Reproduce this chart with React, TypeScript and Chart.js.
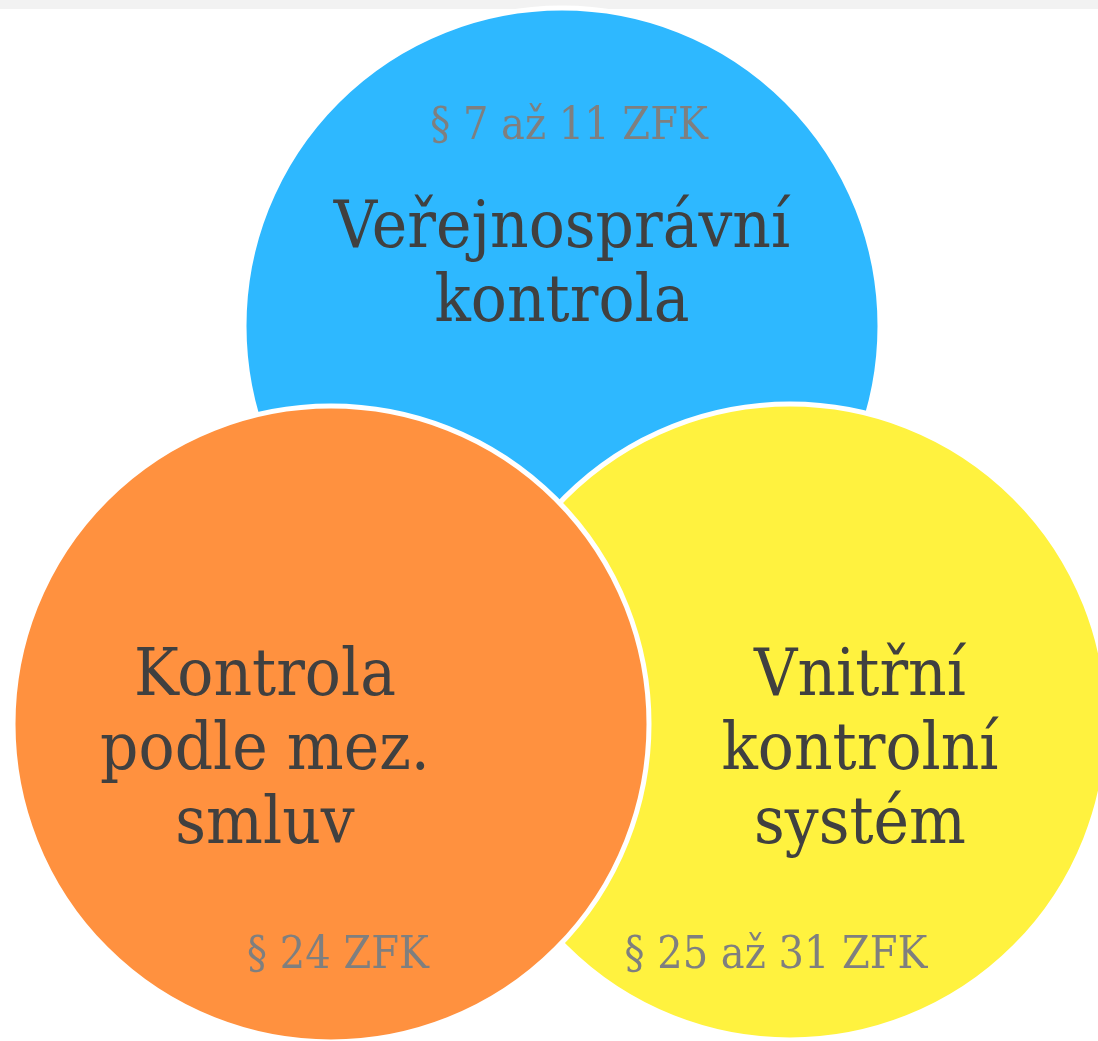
import React, { useEffect, useRef } from "react";
import { Chart, registerables } from "chart.js";

Chart.register(...registerables);

// listed front-most first (Chart.js draws dataset 0 on top)
const circleNames = ["Kontrola podle mez. smluv", "Vnitřní kontrolní systém", "Veřejnosprávní kontrola"];
const circleX = [331, 790, 562];
const circleY = [724, 722, 326];
const circleR = [318, 318, 318];
const circleColors = ["#ff913f", "#fff23f", "#2eb8ff"];

const mainLabels = [
  ["Veřejnosprávní", "kontrola"],
  ["Vnitřní", "kontrolní", "systém"],
  ["Kontrola", "podle mez.", "smluv"],
];
const mainLabelX = [562, 860, 265];
const mainLabelY = [247, 695, 695];
const refLabels = ["§ 7 až 11 ZFK", "§ 25 až 31 ZFK", "§ 24 ZFK"];
const refLabelX = [569, 776, 338];
const refLabelY = [139, 968, 968];

const W = 1098;
const H = 1041;

export default function App() {
  const ref = useRef<HTMLCanvasElement | null>(null);
  useEffect(() => {
    document.body.style.margin = "0";
    const canvas = ref.current!;
    const bg = {
      id: "bg",
      beforeDraw(chart: any) {
        const ctx = chart.ctx;
        ctx.save();
        ctx.fillStyle = "#ffffff";
        ctx.fillRect(0, 0, W, H);
        ctx.fillStyle = "#f2f2f2";
        ctx.fillRect(0, 0, W, 9);
        ctx.restore();
      },
    };
    const drawText = (ctx: any, t: string, x: number, y: number) => {
      ctx.save();
      ctx.translate(x, y);
      ctx.scale(1, 1.1);
      ctx.fillText(t, 0, 0);
      ctx.restore();
    };
    const labels = {
      id: "labels",
      afterDatasetsDraw(chart: any) {
        const ctx = chart.ctx;
        const xs = chart.scales.x;
        const ys = chart.scales.y;
        ctx.save();
        ctx.textAlign = "center";
        ctx.textBaseline = "alphabetic";
        ctx.font = '60px "DejaVu Serif"';
        ctx.fillStyle = "#404040";
        mainLabels.forEach((lines, i) => {
          lines.forEach((t, j) => {
            drawText(ctx, t, xs.getPixelForValue(mainLabelX[i]), ys.getPixelForValue(mainLabelY[i] + j * 74));
          });
        });
        ctx.font = '40px "DejaVu Serif"';
        ctx.fillStyle = "#7f7f7f";
        refLabels.forEach((t, i) => {
          drawText(ctx, t, xs.getPixelForValue(refLabelX[i]), ys.getPixelForValue(refLabelY[i]));
        });
        ctx.restore();
      },
    };
    const chart = new Chart(canvas, {
      type: "bubble",
      data: {
        datasets: circleNames.map((name, i) => ({
          label: name,
          data: [{ x: circleX[i], y: circleY[i], r: circleR[i] }],
          backgroundColor: circleColors[i],
          borderColor: "#ffffff",
          borderWidth: 5,
          hoverRadius: 0,
          clip: false as any,
        })),
      },
      options: {
        animation: false,
        responsive: false,
        events: [],
        layout: { padding: 0, autoPadding: false },
        plugins: { legend: { display: false }, tooltip: { enabled: false } },
        scales: {
          x: { type: "linear", min: 0, max: W, display: false },
          y: { type: "linear", min: 0, max: H, reverse: true, display: false },
        },
      },
      plugins: [bg, labels],
    });
    return () => chart.destroy();
  }, []);
  return (
    <div style={{ position: "absolute", left: 0, top: 0, width: W, height: H }}>
      <canvas ref={ref} width={W} height={H} style={{ width: W, height: H, display: "block" }} />
    </div>
  );
}
